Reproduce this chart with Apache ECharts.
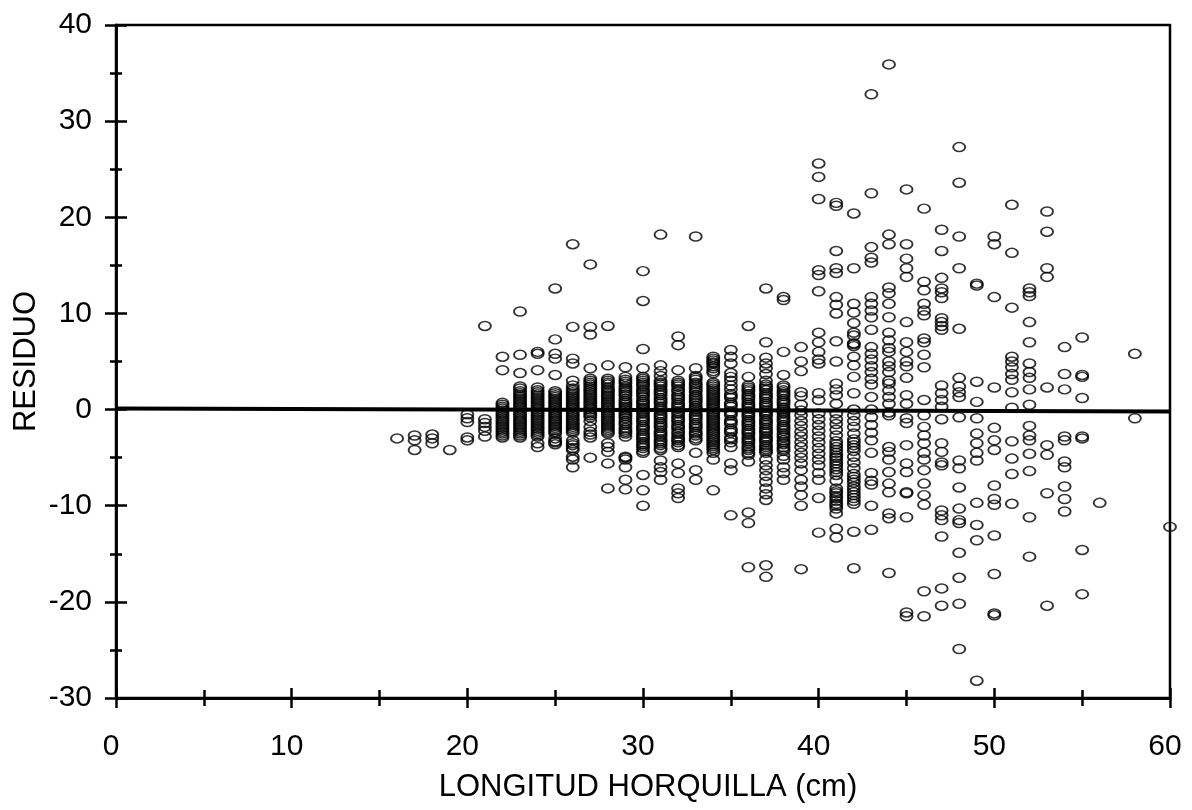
<!DOCTYPE html>
<html>
<head>
<meta charset="utf-8">
<title>Residuo vs longitud horquilla</title>
<script src="https://cdn.jsdelivr.net/npm/echarts@6/dist/echarts.min.js"></script>
<style>
html, body { margin: 0; padding: 0; background: #fff; }
#main { width: 1192px; height: 810px; }
</style>
</head>
<body>
<div id="main"></div>
<script>
// residuos, uno por cada longitud (cm)
var r16 = [-3];
var r17 = [-2.7, -3.2, -4.2];
var r18 = [-2.6, -3, -3.5];
var r19 = [-4.2];
var r20 = [-0.5, -0.9, -1.3, -2.9, -3.2];
var r21 = [8.7, -1, -1.4, -1.8, -2.2, -2.8];
var r22 = [5.5, 4.1, 0.7, 0.3, -0.1, -0.5, -0.9, -1.3, -1.7, -2.1, -2.5, -2.9];
var r23 = [10.2, 5.7, 3.8, 2.4, 1.9, 1.5, 1.1, 0.7, 0.3, -0.1, -0.5, -0.9, -1.3, -1.7, -2.1, -2.5, -2.9];
var r24 = [6.0, 5.8, 4.1, 2.3, 2, 1.6, 1.2, 0.8, 0.4, 0, -0.4, -0.8, -1.2, -1.6, -2, -2.4, -2.8, -3.5, -3.9];
var r25 = [12.6, 7.3, 5.8, 5.3, 3.6, 1.9, 1.5, 1.1, 0.7, 0.3, -0.1, -0.5, -0.9, -1.3, -1.7, -2.1, -2.5, -3.3, -3.6];
var r26 = [17.2, 8.6, 5.3, 4.8, 3, 2.5, 2, 1.6, 1.2, 0.8, 0.4, 0, -0.4, -0.8, -1.2, -1.6, -2, -2.4, -3.2, -3.7, -4.2, -4.9, -5.2, -6];
var r27 = [15.1, 8.6, 7.8, 4.3, 3.2, 2.8, 2.4, 2, 1.6, 1.2, 0.8, 0.4, 0, -0.4, -0.8, -1.2, -1.8, -2.3, -2.9, -5];
var r28 = [8.7, 4.6, 3.2, 2.8, 2.3, 1.9, 1.5, 1.1, 0.7, 0.3, -0.1, -0.5, -0.9, -1.3, -1.7, -2.1, -2.5, -3.5, -3.9, -4.4, -5.6, -8.2];
var r29 = [4.4, 3.4, 2.9, 2.4, 2, 1.6, 1.1, 0.7, 0.3, -0.1, -0.5, -0.9, -1.4, -1.9, -2.3, -2.8, -5, -5.2, -6, -7.3, -8.3];
var r30 = [14.4, 11.3, 6.3, 4.3, 3.4, 3, 2.6, 2.1, 1.7, 1.3, 0.8, 0.4, 0, -0.4, -0.9, -1.3, -1.8, -2.2, -2.7, -3.1, -3.6, -4, -4.5, -6.8, -8.4, -10];
var r31 = [18.2, 4.6, 4, 3.5, 3, 2.6, 2.1, 1.7, 1.2, 0.8, 0.3, -0.1, -0.6, -1, -1.5, -1.9, -2.4, -2.8, -3.3, -3.7, -4.2, -5.3, -6, -6.5, -7.3];
var r32 = [7.6, 6.7, 4.1, 3, 2.6, 2.1, 1.6, 1.2, 0.7, 0.3, -0.2, -0.7, -1.1, -1.6, -2, -2.5, -3, -3.4, -3.9, -5.6, -6.6, -8.2, -8.7, -9.2];
var r33 = [18, 4.3, 3.5, 3.1, 2.6, 2.2, 1.8, 1.3, 0.9, 0.4, 0, -0.5, -0.9, -1.4, -1.8, -2.3, -2.7, -3.2, -4.5, -6.3, -7.3];
var r34 = [5.5, 5.1, 4.8, 4.3, 3.8, 2.8, 2.4, 2, 1.6, 1.2, 0.8, 0.4, 0, -0.4, -0.8, -1.2, -1.6, -2, -2.4, -2.8, -3.2, -3.6, -4, -4.5, -5.2, -8.4];
var r35 = [6.2, 5.5, 4.8, 3.8, 3.4, 3, 2.5, 2.1, 1.6, 1.2, 0.7, 0.3, -0.2, -0.6, -1.1, -1.5, -2, -2.4, -2.9, -3.4, -3.9, -5.6, -6.3, -11];
var r36 = [8.7, 5.3, 3.4, 2.5, 2.1, 1.6, 1.2, 0.7, 0.3, -0.2, -0.6, -1.1, -1.5, -2, -2.4, -2.9, -3.3, -3.8, -4.2, -4.7, -5.4, -10.7, -11.8, -16.4];
var r37 = [12.6, 7, 5.4, 4.8, 4.3, 3.7, 3, 2.6, 2.2, 1.7, 1.3, 0.8, 0.4, -0.1, -0.5, -1, -1.4, -1.9, -2.3, -2.8, -3.2, -3.7, -4.1, -4.5, -5.2, -5.8, -6.3, -6.9, -7.5, -8.2, -8.8, -9.4, -16.2, -17.4];
var r38 = [11.7, 11.4, 6, 3.6, 2.5, 2, 1.6, 1.1, 0.7, 0.2, -0.2, -0.7, -1.1, -1.6, -2, -2.5, -2.9, -3.4, -3.9, -4.3, -4.8, -5.2, -6, -6.6, -7.3];
var r39 = [6.5, 5, 4, 1.8, 1.4, 0.5, -0.1, -0.6, -1.2, -1.7, -2.3, -2.8, -3.4, -3.9, -4.5, -5, -5.6, -6.3, -7.3, -8, -8.9, -10, -16.6];
var r40 = [25.6, 24.2, 21.9, 14.5, 14, 12.3, 8, 7, 6, 5.2, 4.8, 1.7, 1, -0.4, -1, -1.6, -2.2, -2.8, -3.4, -4, -4.6, -5.2, -5.8, -6.6, -7.3, -9.2, -12.8];
var r41 = [21.5, 21.2, 16.5, 14.7, 14.2, 11.7, 10.9, 10, 7.1, 5, 2.7, 2.1, 1.5, 0.6, -0.4, -1, -1.5, -2.1, -2.7, -3.3, -3.9, -4.5, -5, -5.6, -6.2, -6.8, -7.4, -8.2, -8.7, -9.2, -9.8, -10.3, -10.8, -12.4, -13.3];
var r42 = [20.4, 14.7, 11, 10.1, 9, 8, 7.7, 6.9, 6.6, 5.5, 4.6, 3.4, 1.7, 0, -0.6, -1.2, -1.8, -2.5, -3.1, -3.7, -4.3, -4.9, -5.5, -6.1, -6.7, -7.3, -8, -8.6, -9.2, -9.8, -12.7, -16.5];
var r43 = [32.8, 22.5, 16.9, 15.8, 15.3, 11.7, 11, 10.3, 9.6, 8.3, 6.5, 5.8, 5.2, 4.5, 3.9, 3.2, 2.6, 1.3, 0, -0.8, -1.6, -2.4, -3.2, -4.5, -6.6, -7.4, -7.8, -10, -12.5];
var r44 = [35.9, 18.2, 17.2, 12.7, 12.1, 11, 9.6, 8, 7.2, 6.4, 6, 5, 4.5, 3.9, 3, 2.7, 2, 1.3, 0.6, -0.3, -0.6, -3.9, -4.4, -5.2, -6.5, -7.7, -8.6, -10.8, -11.3, -17];
var r45 = [22.9, 17.2, 15.7, 14.7, 13.8, 9.1, 7, 6, 5, 4.5, 3.3, 1.5, 0.6, -0.9, -1.4, -3.7, -5.6, -6.5, -8.6, -8.7, -11.2, -21.1, -21.5];
var r46 = [20.9, 13.3, 12.4, 11, 10.3, 9.8, 7.4, 7, 5.7, 4.4, 1, -0.6, -1.8, -2.7, -3.5, -4.5, -5.2, -6.3, -7.7, -8.9, -9.9, -18.9, -21.5];
var r47 = [18.7, 16.5, 13.7, 12.6, 12.2, 11.6, 9.5, 9.1, 8.7, 8.3, 2.5, 1.7, 1, 0.3, -1, -3.5, -4.4, -5.5, -5.8, -10.5, -11, -11.5, -13.2, -18.6, -20.4];
var r48 = [27.3, 23.6, 18, 14.7, 8.4, 3.3, 2.4, 1.8, 1.3, -0.8, -5.3, -6.1, -8.1, -10.3, -11.5, -11.8, -14.9, -17.5, -20.2, -24.9];
var r49 = [13.1, 12.9, 2.9, 0.8, -0.9, -2.5, -3.5, -4.5, -5.3, -9.7, -12, -13.6, -28.2];
var r50 = [18, 17.2, 11.7, 2.3, -1.9, -3.2, -4.2, -7.9, -9.3, -9.9, -13.1, -17.1, -21.2, -21.4];
var r51 = [21.3, 16.3, 10.6, 5.5, 5, 4.4, 3.7, 3.1, 1.8, 0.2, -3.3, -5.1, -6.7, -9.8];
var r52 = [12.6, 12.2, 11.8, 9.1, 7, 4.8, 3.9, 3.3, 2.1, 0.5, -1.7, -2.7, -3.2, -4.6, -6.4, -11.2, -15.3];
var r53 = [20.6, 18.5, 14.7, 13.8, 2.3, -3.7, -4.7, -8.7, -20.4];
var r54 = [6.5, 3.7, 2.1, -2.8, -3.2, -5.4, -6, -8, -9.3, -10.6];
var r55 = [7.5, 3.6, 3.4, 1.2, -2.8, -3, -14.6, -19.2];
var r56 = [-9.7];
var r58 = [5.8, -0.9];
var r60 = [-12.2];

// puntos solapados en las columnas mas densas
var e22 = [0.5, 0.1, -0.3, -0.7, -1.1, -1.5, -1.9, -2.3, -2.7];
var e23 = [2.2, 1.7, 1.3, 0.9, 0.5, 0.1, -0.3, -0.7, -1.1, -1.5, -1.9, -2.3, -2.7];
var e24 = [1.8, 1.4, 1, 0.6, 0.2, -0.2, -0.6, -1, -1.4, -1.8, -2.2, -2.6];
var e25 = [1.7, 1.3, 0.9, 0.5, 0.1, -0.3, -0.7, -1.1, -1.5, -1.9, -2.3, -3, -3.4];
var e26 = [2.2, 1.8, 1.4, 1, 0.6, 0.2, -0.2, -0.6, -1, -1.4, -1.8, -2.2, -3.5, -4];
var e27 = [3, 2.6, 2.2, 1.8, 1.4, 1, 0.6, 0.2, -0.2, -0.6, -2.6];
var e28 = [3, 2.6, 2.1, 1.7, 1.3, 0.9, 0.5, 0.1, -0.3, -0.7, -1.1, -1.5, -1.9, -2.3];
var e29 = [3.1, 2.7, 2.2, 1.8, 1.4, 0.9, 0.5, 0.1, -0.3, -0.7, -1.2, -1.6, -2.1, -2.5, -4.9];
var e30 = [3.2, 2.8, 2.4, 1.9, 1.5, 1, 0.6, 0.2, -0.2, -0.7, -1.1, -1.6, -2, -2.5, -2.9, -3.4, -3.8, -4.3];
var e31 = [2.8, 2.4, 1.9, 1.5, 1, 0.6, 0.1, -0.4, -0.8, -1.3, -1.7, -2.2, -2.6, -3.1, -3.5, -4];
var e32 = [2.8, 2.4, 1.9, 1.4, 1, 0.5, 0.1, -0.4, -0.9, -1.3, -1.8, -2.3, -2.8, -3.2, -3.7];
var e33 = [3.3, 2.8, 2.4, 2, 1.5, 1.1, 0.7, 0.2, -0.2, -0.7, -1.1, -1.6, -2, -2.5, -3];
var e34 = [5.3, 4.9, 4.5, 4, 2.6, 2.2, 1.8, 1.4, 1, 0.6, 0.2, -0.2, -0.6, -1, -1.4, -1.8, -2.2, -2.6, -3, -3.4, -3.8, -4.2];
var e35 = [1.4, 0.5, -0.4, -1.3, -2.2, -3.1];
var e36 = [2.3, 1.9, 1.4, 1, 0.5, 0.1, -0.4, -0.8, -1.3, -1.7, -2.2, -2.6, -3.1, -3.5, -4, -4.5];
var e37 = [2.4, 2, 1.5, 1.1, 0.6, 0.2, -0.3, -0.7, -1.2, -1.6, -2.1, -2.5, -3, -3.4, -3.9, -4.3];
var e38 = [2.3, 1.8, 1.4, 0.9, 0.5, 0, -0.4, -0.9, -1.3, -1.8, -2.2, -2.7, -3.2, -3.6, -4.1];
var e41 = [-3.6, -4.2, -4.8, -5.3, -5.9, -6.5, -8.5, -9, -9.5, -10];
var e42 = [6.8, -3.4, -4, -7, -7.6, -8.3, -8.9, -9.5];

var longitudes = [16, 17, 18, 19, 20, 21, 22, 23, 24, 25, 26, 27, 28, 29, 30, 31, 32, 33, 34, 35, 36, 37, 38, 39, 40, 41, 42, 43, 44, 45, 46, 47, 48, 49, 50, 51, 52, 53, 54, 55, 56, 58, 60];
var residuos = [r16, r17, r18, r19, r20, r21, r22, r23, r24, r25, r26, r27, r28, r29, r30, r31, r32, r33, r34, r35, r36, r37, r38, r39, r40, r41, r42, r43, r44, r45, r46, r47, r48, r49, r50, r51, r52, r53, r54, r55, r56, r58, r60];
var longitudesDensas = [22, 23, 24, 25, 26, 27, 28, 29, 30, 31, 32, 33, 34, 35, 36, 37, 38, 41, 42];
var residuosDensos = [e22, e23, e24, e25, e26, e27, e28, e29, e30, e31, e32, e33, e34, e35, e36, e37, e38, e41, e42];
var lineaCero = [[0, 0.1], [60, -0.2]];

var puntos = [];
function agregar(lons, valores) {
    lons.forEach(function (lon, i) {
        valores[i].forEach(function (v) {
            puntos.push([lon, v]);
        });
    });
}
agregar(longitudes, residuos);
agregar(longitudesDensas, residuosDensos);

var fuente = '"Liberation Sans", Arial, sans-serif';
var negro = '#000';

function ejeX(dentro) {
    return {
        type: 'value', min: 0, max: 60, interval: 10,
        position: 'bottom',
        name: dentro ? '' : 'LONGITUD HORQUILLA (cm)',
        nameLocation: 'middle', nameGap: 74, nameMoveOverlap: false,
        nameTextStyle: { fontFamily: fuente, fontSize: 31, color: negro, padding: [0, 0, 0, 10] },
        axisLine: { show: true, onZero: false, lineStyle: { color: negro, width: 2.5 } },
        axisTick: { show: true, inside: dentro, length: 10, lineStyle: { color: negro, width: 2.5 } },
        minorTick: { show: true, splitNumber: 2, length: 8, lineStyle: { color: negro, width: 2.5 } },
        axisLabel: { show: !dentro, margin: 34, fontFamily: fuente, fontSize: 30, color: negro, padding: [0, 10, 0, 0] },
        splitLine: { show: false }
    };
}

function ejeY(dentro) {
    return {
        type: 'value', min: -30, max: 40, interval: 10,
        position: 'left',
        name: dentro ? '' : 'RESIDUO',
        nameLocation: 'middle', nameGap: 74, nameRotate: 90, nameMoveOverlap: false,
        nameTextStyle: { fontFamily: fuente, fontSize: 31, color: negro },
        axisLine: { show: true, onZero: false, lineStyle: { color: negro, width: 2.5 } },
        axisTick: { show: true, inside: dentro, length: 11, lineStyle: { color: negro, width: 2.5 } },
        minorTick: { show: true, splitNumber: 2, length: 6, lineStyle: { color: negro, width: 2.5 } },
        axisLabel: { show: !dentro, margin: 24, fontFamily: fuente, fontSize: 30, color: negro },
        splitLine: { show: false }
    };
}

var option = {
    animation: false,
    backgroundColor: '#fff',
    grid: { left: 116, right: 22, top: 25, bottom: 112, outerBoundsMode: 'none', show: true, borderColor: negro, borderWidth: 2.5, backgroundColor: 'transparent' },
    xAxis: [ejeX(false), ejeX(true)],
    yAxis: [ejeY(false), ejeY(true)],
    series: [
        {
            type: 'scatter',
            data: puntos,
            symbol: 'circle',
            symbolSize: [12, 9],
            itemStyle: { color: 'transparent', borderColor: negro, borderWidth: 1.7 },
            silent: true,
            z: 3
        },
        {
            type: 'line',
            data: lineaCero,
            symbol: 'none',
            lineStyle: { color: negro, width: 4 },
            silent: true,
            z: 4
        }
    ]
};

var chart = echarts.init(document.getElementById('main'));
chart.setOption(option);
</script>
</body>
</html>
